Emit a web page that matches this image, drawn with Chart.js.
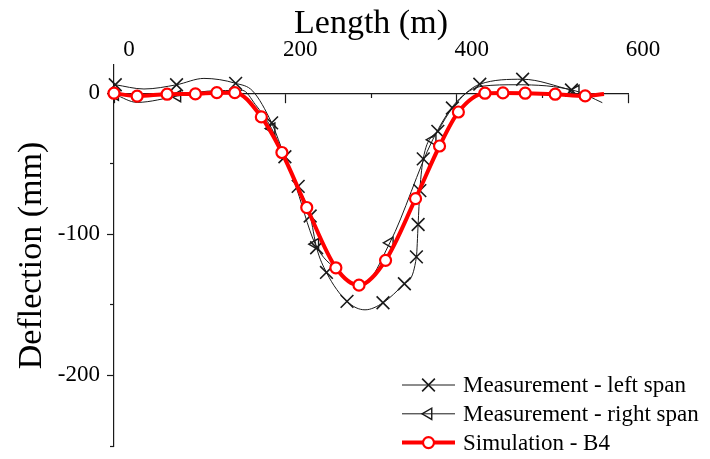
<!DOCTYPE html>
<html><head><meta charset="utf-8">
<script src="https://cdn.jsdelivr.net/npm/chart.js@4.4.1/dist/chart.umd.min.js"></script>
<style>html,body{margin:0;padding:0;background:#fff;} #wrap{width:710px;height:459px;position:relative;}</style>
</head><body><div id="wrap"><canvas id="c"></canvas></div>
<script>
const seriesNames = ['Measurement - left span', 'Measurement - right span', 'Simulation - B4'];

// Simulation - B4 (marked points + unmarked line end)
const simX = [0, 27, 62, 95, 120, 141, 172, 196, 225, 259, 286, 317, 352, 380, 402, 433, 454, 480, 515, 550];
const simY = [0, -2, -0.7, -0.5, 0.4, 0.4, -16.8, -42, -81, -123.7, -136, -118.4, -74.7, -37.4, -13.3, 0, 0.2, 0, -0.7, -1.9];
const simBendX = [572];
const simBendY = [-0.5];

// Measurement - left span (marked points + unmarked curve points)
const leftX = [1.5, 73, 142, 184, 199.5, 215, 229, 236.5, 248, 272, 314, 339, 353, 355, 357, 361, 378, 395, 427, 477, 534];
const leftY = [6, 6, 7, -21, -45, -66, -87, -109.5, -127, -147.5, -148.5, -135, -116, -93, -69, -46.5, -27, -10.5, 6.4, 9.9, 2.3];
const leftBendX = [35, 105, 162, 293];
const leftBendY = [3, 10.5, 1.5, -153.5];

// Measurement - right span (marked points + unmarked curve points)
const rightX = [1.4, 74, 184, 235, 322, 372, 539];
const rightY = [-1, -2, -25, -107, -106, -33, 1.6];
const rightBendX = [27, 110, 150, 165, 210, 262, 288, 400, 430, 470, 570];
const rightBendY = [-6.5, 1.5, 2, -8, -62, -126, -137, -6, 5, 6, -6.7];

const xTickValues = [0, 200, 400, 600];
const xMinorTickValues = [100, 300, 500];
const yTickValues = [0, -100, -200];
const yMinorTickValues = [-50, -150, -250];
const xRange = [0, 600];
const yRange = [-250, 20];

const FONT = "'Liberation Serif', 'Times New Roman', serif";
const INK = '#1a1a1a';
const RED = '#ff0000';

const toPts = (xs, ys) => xs.map((x, i) => ({x: x, y: ys[i]}));
const merged = (xs, ys, bx, by) => toPts(xs, ys).concat(toPts(bx, by)).sort((a, b) => a.x - b.x);
const setTicks = vals => s => { s.ticks = vals.map(v => ({value: v})); };
const noPad = s => { s.paddingTop = 0; s.paddingBottom = 0; };

const markerStyles = [
  {pointStyle: 'crossRot', radius: 9, borderWidth: 1.6, rotation: 0, border: INK, fill: 'rgba(255,255,255,0)', line: INK, lineWidth: 1},
  {pointStyle: 'triangle', radius: 6.5, borderWidth: 1.4, rotation: -90, border: INK, fill: 'rgba(255,255,255,0)', line: INK, lineWidth: 1},
  {pointStyle: 'circle', radius: 5.5, borderWidth: 2.2, rotation: 0, border: RED, fill: '#ffffff', line: RED, lineWidth: 4}
];

function markerDataset(pts, m) {
  return {data: pts, showLine: false, pointStyle: m.pointStyle, pointRadius: m.radius,
    pointBorderWidth: m.borderWidth, pointRotation: m.rotation, pointBorderColor: m.border,
    pointBackgroundColor: m.fill, clip: false, xAxisID: 'x', yAxisID: 'y'};
}
function lineDataset(pts, m) {
  return {data: pts, borderColor: m.line, borderWidth: m.lineWidth, pointRadius: 0,
    cubicInterpolationMode: 'monotone', fill: false, clip: false, xAxisID: 'x', yAxisID: 'y'};
}

const insideLegend = {
  id: 'insideLegend',
  afterDraw(chart) {
    const ctx = chart.ctx;
    const ca = chart.chartArea;
    const x0 = ca.right - 226, y0 = ca.bottom - 61, dy = 28.8;
    ctx.save();
    seriesNames.forEach((name, i) => {
      const m = markerStyles[i];
      const y = y0 + i * dy;
      ctx.strokeStyle = m.line;
      ctx.lineWidth = m.lineWidth;
      ctx.beginPath(); ctx.moveTo(x0, y); ctx.lineTo(x0 + 53, y); ctx.stroke();
      ctx.strokeStyle = m.border; ctx.fillStyle = m.fill; ctx.lineWidth = m.borderWidth;
      Chart.helpers.drawPoint(ctx, {pointStyle: m.pointStyle, radius: m.radius, borderWidth: m.borderWidth, rotation: m.rotation}, x0 + 26.5, y);
      ctx.fillStyle = '#000';
      ctx.font = '23px ' + FONT;
      ctx.textBaseline = 'middle';
      ctx.textAlign = 'left';
      ctx.fillText(name, x0 + 61, y + 1);
    });
    ctx.restore();
  }
};

new Chart(document.getElementById('c'), {
  type: 'line',
  data: {
    datasets: [
      markerDataset(toPts(simX, simY), markerStyles[2]),
      lineDataset(merged(simX, simY, simBendX, simBendY), markerStyles[2]),
      markerDataset(toPts(leftX, leftY), markerStyles[0]),
      markerDataset(toPts(rightX, rightY), markerStyles[1]),
      lineDataset(merged(leftX, leftY, leftBendX, leftBendY), markerStyles[0]),
      lineDataset(merged(rightX, rightY, rightBendX, rightBendY), markerStyles[1])
    ]
  },
  options: {
    responsive: true,
    maintainAspectRatio: false,
    animation: false,
    events: [],
    layout: {padding: {left: 0, top: 0, right: 82, bottom: 13}},
    plugins: {legend: {display: false}, tooltip: {enabled: false}},
    scales: {
      x: {
        type: 'linear', position: 'top', min: xRange[0], max: xRange[1],
        afterBuildTicks: setTicks(xTickValues),
        grid: {display: false}, border: {display: false},
        ticks: {padding: -7, labelOffset: 15, color: '#000', font: {family: FONT, size: 23}, maxRotation: 0, autoSkip: false},
        title: {display: true, text: 'Length (m)', color: '#000', font: {family: FONT, size: 34}, padding: {top: 4, bottom: 0}},
        afterFit: s => { s.height = 65; }
      },
      x0: {
        type: 'linear', axis: 'x', position: {y: 0}, min: xRange[0], max: xRange[1],
        afterBuildTicks: setTicks(xTickValues),
        ticks: {display: false},
        grid: {drawOnChartArea: false, tickLength: 9, color: INK, tickColor: INK, tickWidth: 1.2},
        border: {display: true, color: INK, width: 1.2},
        afterFit: s => { s.height = 0; }
      },
      x1: {
        type: 'linear', axis: 'x', position: {y: 0}, min: xRange[0], max: xRange[1],
        afterBuildTicks: setTicks(xMinorTickValues),
        ticks: {display: false},
        grid: {drawOnChartArea: false, tickLength: 5, color: INK, tickColor: INK, tickWidth: 1.2},
        border: {display: false},
        afterFit: s => { s.height = 0; }
      },
      y: {
        type: 'linear', position: 'left', min: yRange[0], max: yRange[1],
        afterBuildTicks: setTicks(yTickValues),
        ticks: {padding: 7, color: '#000', font: {family: FONT, size: 23}},
        grid: {drawOnChartArea: false, tickLength: 7, color: INK, tickColor: INK, tickWidth: 1.2},
        border: {display: true, color: INK, width: 1.2},
        title: {display: true, text: 'Deflection (mm)', color: '#000', font: {family: FONT, size: 34}, padding: {top: 12, bottom: 0}},
        afterFit: s => { s.width = 114; noPad(s); }
      },
      y2: {
        type: 'linear', axis: 'y', position: {x: 0}, min: yRange[0], max: yRange[1],
        afterBuildTicks: setTicks(yMinorTickValues),
        ticks: {display: false},
        grid: {drawOnChartArea: false, tickLength: 4, color: INK, tickColor: INK, tickWidth: 1.2},
        border: {display: false},
        afterFit: s => { s.width = 0; noPad(s); }
      }
    }
  },
  plugins: [insideLegend]
});
</script>
</body></html>
